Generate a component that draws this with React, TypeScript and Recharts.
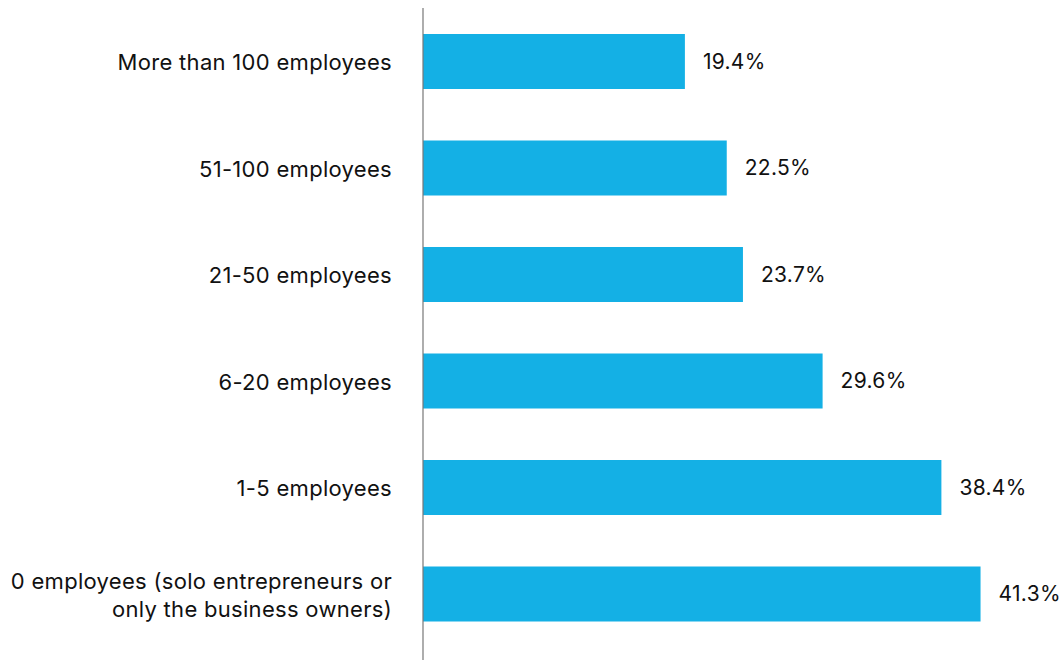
import React from 'react';
import { BarChart, Bar, XAxis, YAxis, LabelList } from 'recharts';

const categories = [
  'More than 100 employees',
  '51-100 employees',
  '21-50 employees',
  '6-20 employees',
  '1-5 employees',
  '0 employees (solo entrepreneurs or|only the business owners)',
];
const shares = [19.4, 22.5, 23.7, 29.6, 38.4, 41.3];

const data = categories.map((c, i) => ({ name: c, value: shares[i] }));

const FONT = 'Inter, "Noto Sans", sans-serif';

const Tick = (props: any) => {
  const { x, y, payload } = props;
  const lines = String(payload.value).split('|');
  const lh = 28;
  const start = -((lines.length - 1) * lh) / 2 + 1;
  return (
    <text x={x} y={y} textAnchor="end" fill="#111" fontSize={22} letterSpacing={0.3} fontFamily={FONT}>
      {lines.map((l: string, i: number) => (
        <tspan key={i} x={x} y={y + start + i * lh} dy="0.36em">
          {l}
        </tspan>
      ))}
    </text>
  );
};

export default function App() {
  return (
    <div style={{ position: 'fixed', top: 0, left: 0, background: '#fff' }}>
      <BarChart
        width={1063}
        height={660}
        data={data}
        layout="vertical"
        margin={{ top: 8, right: 32.5, bottom: 0, left: 0 }}
      >
        <XAxis type="number" domain={[0, 45]} hide />
        <YAxis
          type="category"
          dataKey="name"
          width={423}
          axisLine={{ stroke: '#777', strokeWidth: 1.2 }}
          tickLine={false}
          tickSize={0}
          tickMargin={31}
          tick={<Tick />}
          padding={{ top: 0, bottom: 13 }}
          interval={0}
        />
        <Bar dataKey="value" fill="#14B0E5" barSize={55} isAnimationActive={false}>
          <LabelList
            dataKey="value"
            position="right"
            offset={18}
            formatter={(v: any) => `${v}%`}
            fill="#111"
            fontSize={21}
            letterSpacing={0.3}
            fontFamily={FONT}
          />
        </Bar>
      </BarChart>
    </div>
  );
}
